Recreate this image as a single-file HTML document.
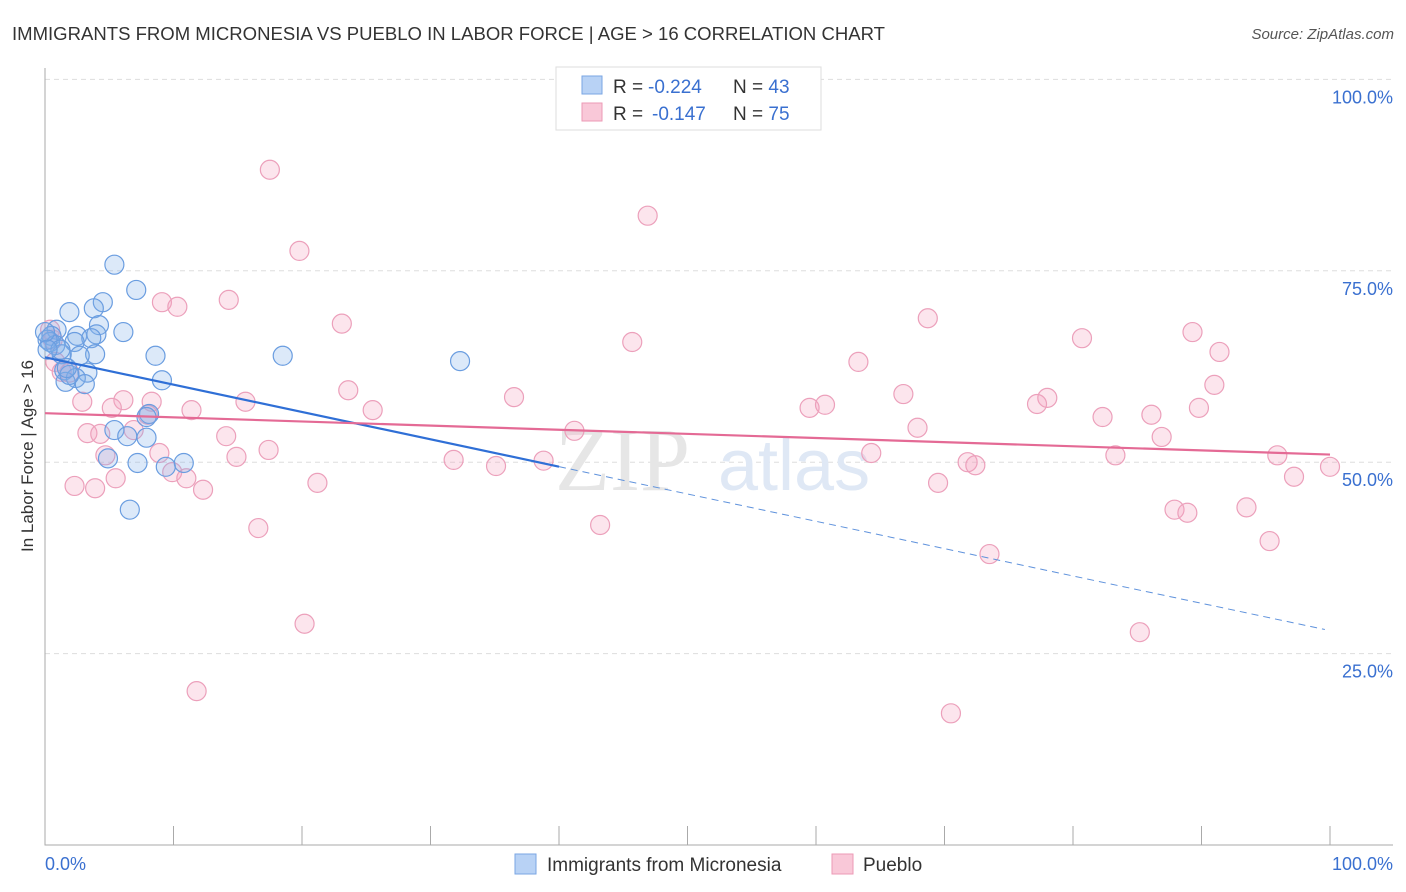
<!DOCTYPE html>
<html><head><meta charset="utf-8"><style>
body{margin:0;background:#fff;font-family:"Liberation Sans",sans-serif}
svg{display:block}
</style></head><body>
<svg id="chart" width="1406" height="892">
<text x="12" y="40" font-size="18" fill="#333" textLength="873" lengthAdjust="spacingAndGlyphs">IMMIGRANTS FROM MICRONESIA VS PUEBLO IN LABOR FORCE | AGE &gt; 16 CORRELATION CHART</text>
<text x="1394" y="39" font-size="15" fill="#555" font-style="italic" text-anchor="end">Source: ZipAtlas.com</text>
<text x="33" y="456" font-size="17" fill="#333" text-anchor="middle" transform="rotate(-90 33 456)">In Labor Force | Age &gt; 16</text>
<g id="grid"></g>
<text x="690" y="490" font-size="90" fill="#e6e6e6" font-family="Liberation Serif,serif" text-anchor="end">ZIP</text>
<text x="718" y="490" font-size="72" fill="#dfe8f5">atlas</text>
<g id="marks"></g>
<g>
<rect x="556" y="67" width="265" height="63" fill="#fff" stroke="#ddd"/>
<rect x="582" y="76" width="20" height="18" fill="#b8d2f5" stroke="#7aa6e3"/>
<rect x="582" y="103" width="20" height="18" fill="#f9c8d8" stroke="#ec9ab6"/>
<text x="613" y="93" font-size="19" fill="#333">R = <tspan x="648" fill="#3a70d0">-0.224</tspan><tspan x="733">N = </tspan><tspan fill="#3a70d0">43</tspan></text>
<text x="613" y="120" font-size="19" fill="#333">R = <tspan x="652" fill="#3a70d0">-0.147</tspan><tspan x="733">N = </tspan><tspan fill="#3a70d0">75</tspan></text>
</g>
<g>
<rect x="515" y="854" width="21" height="20" fill="#b8d2f5" stroke="#7aa6e3"/>
<text x="547" y="871" font-size="19" fill="#333">Immigrants from Micronesia</text>
<rect x="832" y="854" width="21" height="20" fill="#f9c8d8" stroke="#ec9ab6"/>
<text x="863" y="871" font-size="19" fill="#333">Pueblo</text>
</g>
</svg>
<script>
const blueX=[5.4,7.1,4.5,1.9,3.8,4.2,6.1,4.0,2.5,3.6,2.3,8.6,3.9,2.7,0.9,0.5,0.4,0.8,1.3,1.5,3.3,2.4,1.6,3.1,9.1,18.5,32.3,8.1,7.9,5.4,6.4,7.9,4.9,7.2,10.8,9.4,6.6,0.2,1.2,1.9,0,1.7,0.2];
const blueY=[75.8,72.5,70.9,69.6,70.1,67.9,67.0,66.7,66.5,66.2,65.7,63.9,64.1,63.9,67.3,66.5,65.7,65.3,64.1,62.0,61.7,61.0,60.5,60.2,60.7,63.9,63.2,56.3,55.9,54.2,53.4,53.2,50.5,49.9,49.9,49.4,43.8,66.0,64.7,61.4,67.0,62.3,64.7];
const pinkX=[17.5,46.9,19.8,14.3,9.1,10.3,23.1,68.7,89.3,45.7,80.7,63.3,91.4,0.8,1.3,1.9,91.0,23.6,66.8,2.9,6.1,8.3,15.6,36.5,78.0,77.2,59.5,60.7,25.5,11.4,5.2,82.3,86.1,89.8,8.0,67.9,3.3,4.3,14.1,41.2,86.9,6.9,4.7,8.9,14.9,17.4,64.3,83.3,95.9,31.8,35.1,38.8,71.8,72.4,100,9.9,11.0,2.3,3.9,5.5,12.3,21.2,69.5,97.2,87.9,88.9,93.5,95.3,16.6,43.2,73.5,20.2,85.2,11.8,70.5,0.4,0.6];
const pinkY=[88.2,82.2,77.6,71.2,70.9,70.3,68.1,68.8,67.0,65.7,66.2,63.1,64.4,63.1,61.8,61.7,60.1,59.4,58.9,57.9,58.1,57.9,57.9,58.5,58.4,57.6,57.1,57.5,56.8,56.8,57.1,55.9,56.2,57.1,56.2,54.5,53.8,53.7,53.4,54.1,53.3,54.2,50.9,51.2,50.7,51.6,51.2,50.9,50.9,50.3,49.5,50.2,50.0,49.6,49.4,48.7,47.9,46.9,46.6,47.9,46.4,47.3,47.3,48.1,43.8,43.4,44.1,39.7,41.4,41.8,38.0,28.9,27.8,20.1,17.2,67.3,66.0];
const blueTrend=[63.7,28.0];
const pinkTrend=[56.4,51.0];
const yTicks=[25,50,75,100];
const NS='http://www.w3.org/2000/svg';
const sx=v=>45+v*12.85, sy=v=>845-v*7.656;
function mk(t,a,p){const e=document.createElementNS(NS,t);for(const k in a)e.setAttribute(k,a[k]);p.appendChild(e);return e;}
const g=document.getElementById('grid'), m=document.getElementById('marks');
yTicks.forEach(t=>{
 const l=mk('line',{x1:45,x2:1393,y1:sy(t),y2:sy(t),stroke:'#ddd','stroke-dasharray':'5,4'},g);
 
 
 const tx=mk('text',{x:1393,y:sy(t)+24,'font-size':18,fill:'#3a70d0','text-anchor':'end'},g);
 tx.textContent=t.toFixed(1)+'%';
 
 
});
const ax=mk('path',{d:'M45 68V845H1393',stroke:'#aaa',fill:'none'},g);


for(let i=0;i<=10;i++){const tk=mk('line',{x1:sx(i*10),x2:sx(i*10),y1:826,y2:845,stroke:'#aaa'},g);
 
 }
[['0.0%',45,'start'],['100.0%',1393,'end']].forEach(a=>{const t=mk('text',{x:a[1],y:870,'font-size':18,fill:'#3a70d0','text-anchor':a[2]},g);t.textContent=a[0];
 
 });
pinkX.forEach((x,i)=>{const c=mk('circle',{cx:sx(x),cy:sy(pinkY[i]),r:9.5,fill:'rgba(244,160,190,0.28)',stroke:'#eca0bb','stroke-width':1.2},m);
 
 });
blueX.forEach((x,i)=>{const c=mk('circle',{cx:sx(x),cy:sy(blueY[i]),r:9.5,fill:'rgba(130,175,235,0.28)',stroke:'#6a9de0','stroke-width':1.2},m);
 
 });
const by=x=>blueTrend[0]+(blueTrend[1]-blueTrend[0])*x/100;
let l=mk('line',{x1:sx(0),y1:sy(by(0)),x2:sx(40),y2:sy(by(40)),stroke:'#2f6fd6','stroke-width':2.2},m);


l=mk('line',{x1:sx(40),y1:sy(by(40)),x2:sx(99.6),y2:sy(by(99.6)),stroke:'#5f92dc','stroke-width':1,'stroke-dasharray':'7,5'},m);


l=mk('line',{x1:sx(0),y1:sy(pinkTrend[0]),x2:sx(100),y2:sy(pinkTrend[1]),stroke:'#e46a95','stroke-width':2.2},m);


</script>
</body></html>
